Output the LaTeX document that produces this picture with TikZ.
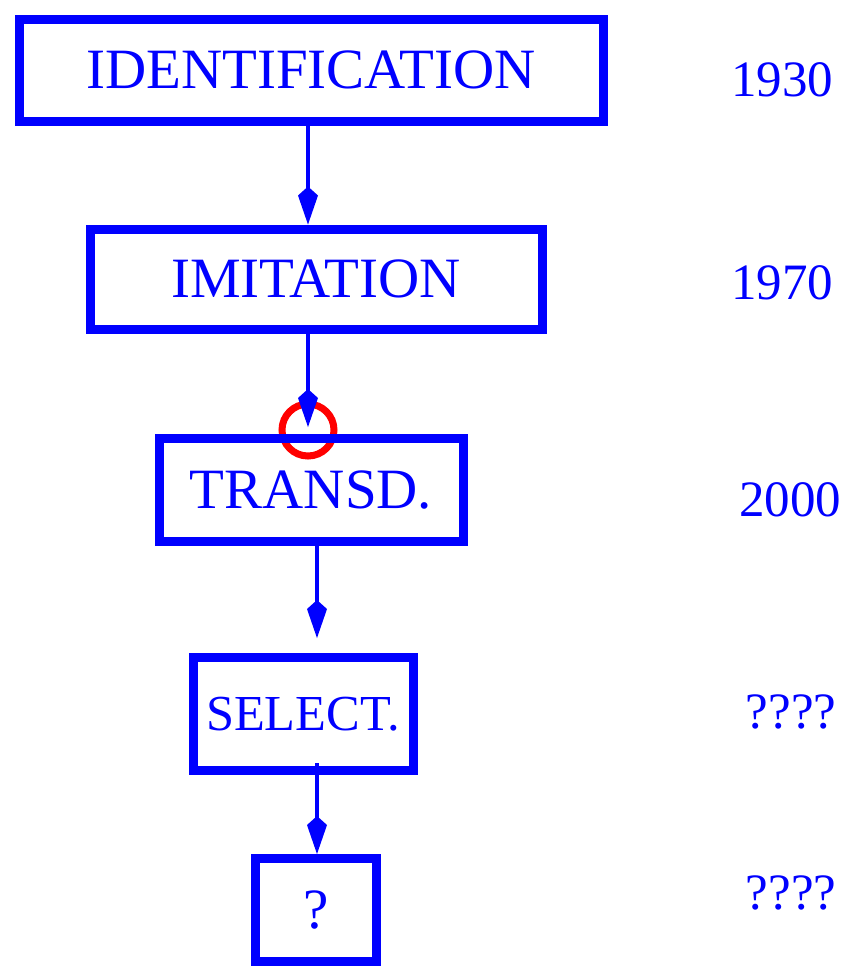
\documentclass[tikz,border=0pt]{standalone}
\usepackage{fontspec}
\setmainfont{Liberation Serif}
\usetikzlibrary{arrows.meta}

\begin{document}
\begin{tikzpicture}[x=0.5pt,y=-0.5pt,
	stage/.style={draw=blue,line width=4.5pt,text=blue,inner sep=0pt,
		font=\fontsize{28.5}{31}\selectfont},
	year/.style={text=blue,inner sep=0pt,font=\fontsize{25.5}{28}\selectfont},
	link/.style={draw=blue,line width=2pt,-{Kite[length=19pt,width=10pt,inset=4.5pt]}}]

	\useasboundingbox (0,0) rectangle (856,971);

	% the red ring sits under the arrow
	\draw[red,line width=3.5pt] (308,430) circle (13pt);

	\node[stage,minimum width=292pt,minimum height=51pt] (ident) at (311,70) {IDENTIFICATION};
	\node[stage,minimum width=226pt,minimum height=50pt] (imit) at (316,279) {IMITATION};
	\node[stage,minimum width=152pt,minimum height=51.5pt] (transd) at (311,490) {TRANSD.};
	\node[stage,minimum width=110pt,minimum height=56.5pt,font=\fontsize{25.2}{28}\selectfont] (select) at (303,714) {SELECT.};
	\node[stage,minimum width=60.5pt,minimum height=51.5pt] (quest) at (316,910) {?};

	\foreach \yr/\x/\y/\nm in {1930/782/80/ya,1970/782/283/yb,2000/790/500/yc,????/791/712/yd,????/791/893/ye}
	{
		\node[year] (\nm) at (\x,\y) {\yr};
	}

	\coordinate (lanea) at (308,0);
	\coordinate (laneb) at (317,0);

	\draw[link] (ident.south -| lanea) -- (imit.north -| lanea);
	\draw[link,shorten >=3.5pt] (imit.south -| lanea) -- (transd.north -| lanea);
	\draw[link,shorten >=7.5pt] (transd.south -| laneb) -- (select.north -| laneb);
	\draw[link,shorten <=-6pt] (select.south -| laneb) -- (quest.north -| laneb);
\end{tikzpicture}
\end{document}
